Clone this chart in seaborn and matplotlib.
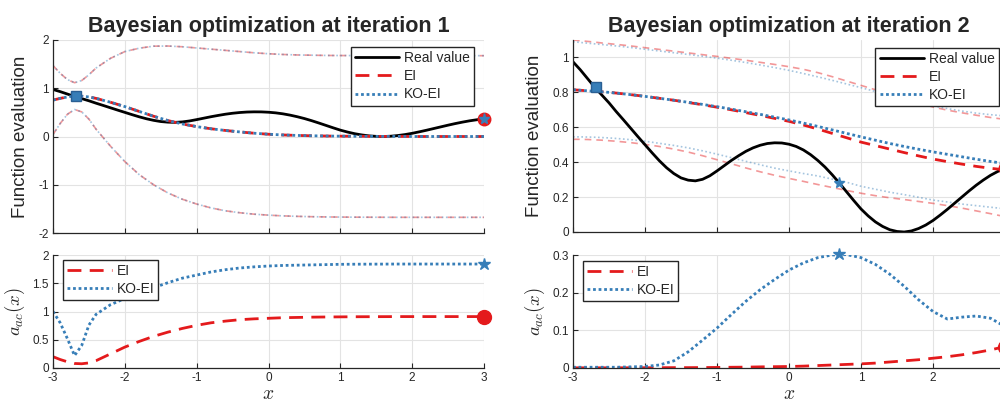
import numpy as np
import pandas as pd
import seaborn as sns
import matplotlib
matplotlib.use("Agg")
import matplotlib.pyplot as plt
from matplotlib.lines import Line2D

sns.set_style("whitegrid")
plt.rcParams['font.family'] = ['Liberation Sans', 'DejaVu Sans']
plt.rcParams['mathtext.fontset'] = 'cm'
plt.rcParams['axes.unicode_minus'] = False

# shared x grid (denser near the first sample)
x_grid = [-3.0, -2.9, -2.8, -2.7, -2.6, -2.5, -2.4, -2.2, -2.0, -1.8, -1.6, -1.4, -1.2,
          -1.0, -0.8, -0.6, -0.4, -0.2, 0.0, 0.2, 0.4, 0.6, 0.8, 1.0, 1.2, 1.4, 1.6,
          1.8, 2.0, 2.2, 2.4, 2.6, 2.8, 3.0]

# true objective, read at 0.1 steps
real_x = [-3.0, -2.9, -2.8, -2.7, -2.6, -2.5, -2.4, -2.3, -2.2, -2.1, -2.0, -1.9, -1.8, -1.7,
          -1.6, -1.5, -1.4, -1.3, -1.2, -1.1, -1.0, -0.9, -0.8, -0.7, -0.6, -0.5, -0.4, -0.3,
          -0.2, -0.1, 0.0, 0.1, 0.2, 0.3, 0.4, 0.5, 0.6, 0.7, 0.8, 0.9, 1.0, 1.1, 1.2, 1.3,
          1.4, 1.5, 1.6, 1.7, 1.8, 1.9, 2.0, 2.1, 2.2, 2.3, 2.4, 2.5, 2.6, 2.7, 2.8, 2.9, 3.0]
real_value = [0.975, 0.93, 0.88, 0.83, 0.785, 0.74, 0.69, 0.643, 0.595, 0.547, 0.50, 0.453, 0.408, 0.368,
              0.335, 0.31, 0.297, 0.293, 0.302, 0.322, 0.35, 0.38, 0.41, 0.437, 0.462, 0.482, 0.497, 0.507,
              0.511, 0.51, 0.503, 0.49, 0.47, 0.443, 0.41, 0.372, 0.328, 0.28, 0.23, 0.18, 0.132, 0.092, 0.058, 0.032,
              0.013, 0.003, 0.0, 0.006, 0.02, 0.04, 0.066, 0.097, 0.13, 0.165, 0.20, 0.235, 0.268, 0.298, 0.325, 0.347, 0.365]

# iteration 1 - GP posterior (EI and KO-EI coincide)
it1_mean = [0.755, 0.79, 0.82, 0.838, 0.835, 0.82, 0.79, 0.71, 0.62, 0.52, 0.42, 0.33, 0.26,
            0.205, 0.16, 0.125, 0.095, 0.068, 0.047, 0.032, 0.022, 0.015, 0.01, 0.007, 0.005, 0.003, 0.002,
            0.001, 0.0, 0.0, 0.0, 0.0, 0.0, 0.0]
it1_upper = [1.47, 1.31, 1.18, 1.115, 1.16, 1.28, 1.42, 1.62, 1.76, 1.83, 1.872, 1.875, 1.86,
             1.835, 1.81, 1.785, 1.76, 1.735, 1.715, 1.70, 1.69, 1.685, 1.68, 1.678, 1.677, 1.676, 1.675,
             1.675, 1.675, 1.675, 1.675, 1.675, 1.675, 1.675]
it1_lower = [0.04, 0.27, 0.46, 0.56, 0.51, 0.36, 0.15, -0.20, -0.52, -0.79, -1.0, -1.17, -1.30,
             -1.40, -1.48, -1.54, -1.58, -1.61, -1.63, -1.645, -1.655, -1.662, -1.667, -1.67, -1.672, -1.673, -1.674,
             -1.675, -1.675, -1.675, -1.675, -1.675, -1.675, -1.675]
it1_acq_ei = [0.20, 0.15, 0.11, 0.08, 0.075, 0.09, 0.13, 0.25, 0.37, 0.47, 0.56, 0.635, 0.70,
              0.755, 0.80, 0.83, 0.855, 0.87, 0.88, 0.89, 0.895, 0.90, 0.903, 0.905, 0.907, 0.908, 0.909,
              0.91, 0.91, 0.91, 0.91, 0.91, 0.91, 0.91]
it1_acq_ko = [1.0, 0.80, 0.52, 0.22, 0.40, 0.76, 0.95, 1.12, 1.23, 1.32, 1.42, 1.51, 1.59,
              1.645, 1.70, 1.74, 1.77, 1.79, 1.805, 1.815, 1.82, 1.825, 1.83, 1.835, 1.837, 1.838, 1.839,
              1.84, 1.84, 1.84, 1.84, 1.84, 1.84, 1.84]

# iteration 2 - GP posteriors
it2_mean_ei = [0.815, 0.812, 0.809, 0.806, 0.803, 0.80, 0.796, 0.787, 0.777, 0.766, 0.755, 0.742, 0.729,
               0.715, 0.70, 0.684, 0.668, 0.651, 0.634, 0.613, 0.59, 0.565, 0.54, 0.515, 0.495, 0.475, 0.455,
               0.436, 0.418, 0.403, 0.389, 0.376, 0.365, 0.356]
it2_mean_ko = [0.815, 0.812, 0.809, 0.806, 0.803, 0.80, 0.796, 0.787, 0.777, 0.766, 0.755, 0.743, 0.731,
               0.718, 0.704, 0.689, 0.674, 0.658, 0.642, 0.624, 0.605, 0.585, 0.565, 0.545, 0.526, 0.507, 0.49,
               0.474, 0.459, 0.445, 0.431, 0.417, 0.404, 0.392]
it2_upper_ei = [1.10, 1.096, 1.092, 1.088, 1.083, 1.079, 1.075, 1.066, 1.056, 1.046, 1.036, 1.026, 1.016,
                1.006, 0.995, 0.984, 0.972, 0.96, 0.947, 0.932, 0.913, 0.89, 0.865, 0.84, 0.815, 0.79, 0.765,
                0.74, 0.716, 0.698, 0.683, 0.669, 0.656, 0.645]
it2_upper_ko = [1.09, 1.086, 1.082, 1.078, 1.074, 1.07, 1.066, 1.057, 1.047, 1.037, 1.027, 1.017, 1.007,
                0.996, 0.984, 0.971, 0.957, 0.942, 0.926, 0.908, 0.889, 0.869, 0.848, 0.827, 0.805, 0.783, 0.762,
                0.742, 0.723, 0.707, 0.693, 0.681, 0.672, 0.665]
it2_lower_ei = [0.531, 0.531, 0.530, 0.528, 0.526, 0.523, 0.52, 0.512, 0.502, 0.49, 0.475, 0.458, 0.437,
                0.414, 0.391, 0.367, 0.345, 0.325, 0.307, 0.29, 0.272, 0.255, 0.238, 0.222, 0.208, 0.196, 0.186,
                0.175, 0.164, 0.151, 0.137, 0.121, 0.105, 0.088]
it2_lower_ko = [0.545, 0.545, 0.544, 0.543, 0.541, 0.539, 0.536, 0.529, 0.52, 0.508, 0.496, 0.482, 0.465,
                0.446, 0.426, 0.405, 0.385, 0.366, 0.35, 0.335, 0.321, 0.303, 0.285, 0.262, 0.245, 0.228, 0.214,
                0.199, 0.183, 0.172, 0.16, 0.151, 0.142, 0.133]
it2_acq_ei = [0.0005, 0.0005, 0.0005, 0.0005, 0.0005, 0.0005, 0.0005, 0.0006, 0.0007, 0.0008, 0.001, 0.001, 0.0012,
              0.0015, 0.002, 0.0023, 0.003, 0.0035, 0.004, 0.005, 0.0065, 0.008, 0.0095, 0.011, 0.013, 0.016, 0.019,
              0.022, 0.026, 0.03, 0.035, 0.041, 0.048, 0.057]
it2_acq_ko = [0.002, 0.002, 0.002, 0.002, 0.002, 0.002, 0.002, 0.003, 0.004, 0.008, 0.019, 0.043, 0.074,
              0.106, 0.142, 0.177, 0.208, 0.235, 0.26, 0.279, 0.293, 0.300, 0.301, 0.293, 0.275, 0.249, 0.217,
              0.181, 0.15, 0.13, 0.135, 0.138, 0.132, 0.11]

# sampled / proposed points
obs_x, obs_y = [-2.68], [0.83]
it1_next_ei, it1_next_ko = (3.0, 0.365), (3.0, 0.365)
it2_next_ei, it2_next_ko = (3.0, 0.365), (0.7, 0.28)
it1_best_ei, it1_best_ko = (3.0, 0.91), (3.0, 1.84)
it2_best_ei, it2_best_ko = (3.0, 0.057), (0.7, 0.303)

RED = '#e41a1c'
BLUE = '#377eb8'
GRAY = '#262626'

df = pd.DataFrame({'x': real_x, 'real': real_value})

W, H = 1000, 403
fig = plt.figure(figsize=(10, 4.03), dpi=100)


def box(l, t, r, b):
    return [l / W, 1 - b / H, (r - l) / W, (b - t) / H]


ax1 = fig.add_axes(box(53, 40, 484, 233))
ax2 = fig.add_axes(box(53, 255, 484, 368))
ax3 = fig.add_axes(box(573, 40, 1005, 232))
ax4 = fig.add_axes(box(573, 255, 1005, 368))


def style(ax):
    ax.set_xlim(-3, 3)
    ax.set_xticks([-3, -2, -1, 0, 1, 2, 3])
    for s in ['top', 'right']:
        ax.spines[s].set_visible(False)
    for s in ['left', 'bottom']:
        ax.spines[s].set_color(GRAY)
        ax.spines[s].set_linewidth(0.9)
    ax.grid(True, color='#e3e3e3', linewidth=0.8)
    ax.tick_params(direction='in', length=3.5, width=0.8, colors=GRAY, labelsize=8.5,
                   left=True, bottom=True, pad=3)
    ax.set_axisbelow(True)


def bounds(ax, lo, hi, col, ls):
    sns.lineplot(x=x_grid, y=lo, ax=ax, color=col, alpha=0.45, lw=1.2, linestyle=ls)
    sns.lineplot(x=x_grid, y=hi, ax=ax, color=col, alpha=0.45, lw=1.2, linestyle=ls)


top_handles = [Line2D([], [], color='black', lw=2),
               Line2D([], [], color=RED, lw=2, linestyle=(0, (5, 3))),
               Line2D([], [], color=BLUE, lw=2, linestyle=(0, (1, 1)))]
bot_handles = top_handles[1:]
leg_kw = dict(borderaxespad=0, fontsize=10, handlelength=3.2, fancybox=False, framealpha=1,
              edgecolor=GRAY, labelspacing=0.3, borderpad=0.3, handletextpad=0.35)

# ---- iteration 1, function ----
style(ax1)
bounds(ax1, it1_lower, it1_upper, RED, (0, (4, 3)))
bounds(ax1, it1_lower, it1_upper, BLUE, (0, (1, 1.5)))
sns.lineplot(data=df, x='x', y='real', ax=ax1, color='black', lw=2)
sns.lineplot(x=x_grid, y=it1_mean, ax=ax1, color=RED, lw=2, linestyle=(0, (4, 3)))
sns.lineplot(x=x_grid, y=it1_mean, ax=ax1, color=BLUE, lw=2, linestyle=(0, (1, 1)))
ax1.plot(obs_x, obs_y, 's', color=BLUE, ms=7.5, mec='#2a5f93', zorder=5)
ax1.plot(*it1_next_ei, 'o', color=RED, ms=9, zorder=5, clip_on=False)
ax1.plot(*it1_next_ko, '*', color=BLUE, ms=8, zorder=6, clip_on=False)
ax1.set_ylim(-2, 2)
ax1.set_yticks([-2, -1, 0, 1, 2])
ax1.set_xticklabels([])
ax1.set_xlabel('')
ax1.set_ylabel('Function evaluation', fontsize=13.5, color=GRAY, labelpad=7)
ax1.set_title('Bayesian optimization at iteration 1', fontsize=15.5, fontweight='bold', pad=6)
ax1.legend(top_handles, ['Real value', 'EI', 'KO-EI'], loc='upper right',
           bbox_to_anchor=(0.977, 0.964), **leg_kw)

# ---- iteration 1, acquisition ----
style(ax2)
sns.lineplot(x=x_grid, y=it1_acq_ei, ax=ax2, color=RED, lw=2, linestyle=(0, (5, 3)))
sns.lineplot(x=x_grid, y=it1_acq_ko, ax=ax2, color=BLUE, lw=2, linestyle=(0, (1, 1)))
ax2.plot(*it1_best_ei, 'o', color=RED, ms=10, zorder=5, clip_on=False)
ax2.plot(*it1_best_ko, '*', color=BLUE, ms=9, zorder=5, clip_on=False)
ax2.set_ylim(0, 2)
ax2.set_yticks([0, 0.5, 1, 1.5, 2])
ax2.set_yticklabels(['0', '0.5', '1', '1.5', '2'])
ax2.set_xticklabels(['-3', '-2', '-1', '0', '1', '2', '3'])
ax2.set_xlabel('$x$', fontsize=14, labelpad=1)
ax2.set_ylabel('$a_{ac}(x)$', fontsize=13.5, labelpad=4)
ax2.legend(bot_handles, ['EI', 'KO-EI'], loc='upper left', bbox_to_anchor=(0.023, 0.956), **leg_kw)

# ---- iteration 2, function ----
style(ax3)
bounds(ax3, it2_lower_ei, it2_upper_ei, RED, (0, (4, 3)))
bounds(ax3, it2_lower_ko, it2_upper_ko, BLUE, (0, (1, 1.5)))
sns.lineplot(data=df, x='x', y='real', ax=ax3, color='black', lw=2)
sns.lineplot(x=x_grid, y=it2_mean_ei, ax=ax3, color=RED, lw=2, linestyle=(0, (4, 3)))
sns.lineplot(x=x_grid, y=it2_mean_ko, ax=ax3, color=BLUE, lw=2, linestyle=(0, (1, 1)))
ax3.plot(obs_x, obs_y, 's', color=BLUE, ms=7.5, mec='#2a5f93', zorder=5)
ax3.plot(*it2_next_ei, 'o', color=RED, ms=9, zorder=5, clip_on=False)
ax3.plot(*it2_next_ko, '*', color=BLUE, ms=8, zorder=6)
ax3.set_ylim(0, 1.1)
ax3.set_yticks([0, 0.2, 0.4, 0.6, 0.8, 1])
ax3.set_yticklabels(['0', '0.2', '0.4', '0.6', '0.8', '1'])
ax3.set_xticklabels([])
ax3.set_xlabel('')
ax3.set_ylabel('Function evaluation', fontsize=13.5, color=GRAY, labelpad=7)
ax3.set_title('Bayesian optimization at iteration 2', fontsize=15.5, fontweight='bold', pad=6)
ax3.legend(top_handles, ['Real value', 'EI', 'KO-EI'], loc='upper right',
           bbox_to_anchor=(0.986, 0.96), **leg_kw)

# ---- iteration 2, acquisition ----
style(ax4)
sns.lineplot(x=x_grid, y=it2_acq_ei, ax=ax4, color=RED, lw=2, linestyle=(0, (5, 3)))
sns.lineplot(x=x_grid, y=it2_acq_ko, ax=ax4, color=BLUE, lw=2, linestyle=(0, (1, 1)))
ax4.plot(*it2_best_ei, 'o', color=RED, ms=10, zorder=5, clip_on=False)
ax4.plot(*it2_best_ko, '*', color=BLUE, ms=9, zorder=5, clip_on=False)
ax4.set_ylim(0, 0.3)
ax4.set_yticks([0, 0.1, 0.2, 0.3])
ax4.set_yticklabels(['0', '0.1', '0.2', '0.3'])
# the last tick label falls outside the figure in the reference
ax4.set_xticklabels(['-3', '-2', '-1', '0', '1', '2', ''])
ax4.set_xlabel('$x$', fontsize=14, labelpad=1)
ax4.set_ylabel('$a_{ac}(x)$', fontsize=13.5, labelpad=4)
ax4.legend(bot_handles, ['EI', 'KO-EI'], loc='upper left', bbox_to_anchor=(0.023, 0.947), **leg_kw)

fig.savefig('out.png', dpi=100)
